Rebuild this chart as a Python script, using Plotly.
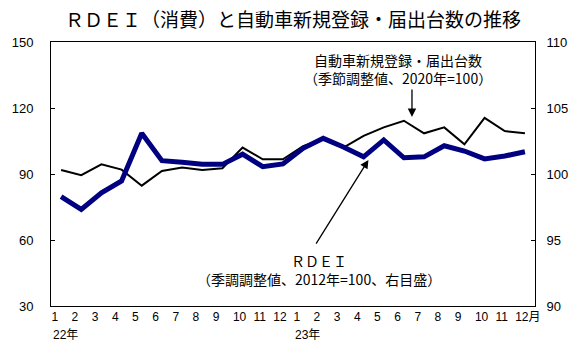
import plotly.graph_objects as go

months = [1, 2, 3, 4, 5, 6, 7, 8, 9, 10, 11, 12] * 2
year_labels = ["22年", "23年"]

# 自動車新規登録・届出台数（季節調整値、2020年=100） left axis
vehicles = [91.8, 89.5, 94.4, 92.0, 84.7, 91.4, 93.0, 91.8, 92.6, 102.0, 96.7, 96.7,
            102.7, 106.0, 102.0, 107.3, 111.2, 114.2, 108.5, 111.2, 103.5, 115.5, 109.5, 108.5]
# RDEI（季調調整値、2012年=100） right axis
rdei = [98.28, 97.32, 98.58, 99.47, 103.08, 101.01, 100.89, 100.73, 100.73, 101.5, 100.55, 100.76,
        101.95, 102.7, 102.05, 101.3, 102.58, 101.23, 101.3, 102.14, 101.74, 101.14, 101.36, 101.69]

left_ticks = [30, 60, 90, 120, 150]
right_ticks = [90, 95, 100, 105, 110]

x = list(range(len(months)))
ticktext = [str(m) for m in months]
ticktext[-1] = f"{months[-1]}月"

# month labels sit left-aligned in their category slot (as in the original)
SLOT_PX = 492 / 24
tickvals = []
for i, t in enumerate(ticktext):
    w = sum(12 if ord(c) > 255 else 6.7 for c in t)
    tickvals.append(i - 0.5 + (w / 2 + 0.5) / SLOT_PX)

FONT = "Arial, 'Liberation Sans', 'Noto Sans CJK JP', sans-serif"
JFONT = "'Noto Sans CJK JP', Arial, sans-serif"

fig = go.Figure()
fig.add_trace(go.Scatter(x=x, y=vehicles, mode="lines", line=dict(color="#000000", width=2),
                         yaxis="y", showlegend=False))
fig.add_trace(go.Scatter(x=x, y=rdei, mode="lines", line=dict(color="#000080", width=5),
                         yaxis="y2", showlegend=False))

fig.update_layout(
    width=580, height=345,
    margin=dict(l=50, r=38, t=42, b=39),
    paper_bgcolor="white", plot_bgcolor="white",
    font=dict(family=FONT, color="#000000", size=13),
    title=dict(text="ＲＤＥＩ（消費）と自動車新規登録・届出台数の推移",
               font=dict(family=JFONT, size=19, color="#000000"),
               x=0.5, xref="paper", xanchor="center",
               y=1 - 20 / 345, yref="container", yanchor="middle"),
    xaxis=dict(range=[-0.5, 23.5], tickmode="array", tickvals=tickvals, ticktext=ticktext,
               tickangle=0, ticks="", showgrid=False, zeroline=False, showline=True,
               linecolor="#000000", linewidth=1, mirror=True,
               tickfont=dict(size=12, family=FONT)),
    yaxis=dict(range=[30, 150], tickmode="array", tickvals=left_ticks, ticks="inside",
               ticklen=4, tickcolor="#000000", showgrid=False, zeroline=False, showline=True,
               linecolor="#000000", linewidth=1, ticklabelstandoff=14,
               tickfont=dict(size=13, family=FONT)),
    yaxis2=dict(range=[90, 110], tickmode="array", tickvals=right_ticks, ticks="inside",
                ticklen=4, tickcolor="#000000", showgrid=False, zeroline=False, showline=True,
                linecolor="#000000", linewidth=1, overlaying="y", side="right",
                ticklabelstandoff=8, tickfont=dict(size=13, family=FONT)),
)

anns = []
# year labels
for k, lab in enumerate(year_labels):
    anns.append(dict(text=lab, x=-0.5 + 12 * k, xref="x", y=0, yref="paper", yshift=-28.5,
                     xanchor="left", yanchor="middle", showarrow=False,
                     font=dict(size=12, family=FONT)))

# series labels
anns += [
    dict(text="自動車新規登録・届出台数<br>（季節調整値、2020年=100）",
         x=(403 - 50) / 492, y=(306 - 69) / 264, xref="paper",
         yref="paper", showarrow=False, xanchor="center", yanchor="middle", align="center",
         font=dict(size=14, family=JFONT)),
    dict(text="ＲＤＥＩ<br>（季調調整値、2012年=100、右目盛）",
         x=(322 - 50) / 492, y=(306 - 270) / 264, xref="paper",
         yref="paper", showarrow=False, xanchor="center", yanchor="middle", align="center",
         font=dict(size=14, family=JFONT)),
    # arrows
    dict(text="", x=17.4, y=115.9, xref="x", yref="y", ax=17.4, ay=129.1, axref="x", ayref="y",
         showarrow=True, arrowhead=2, arrowsize=1.3, arrowwidth=1.3, arrowcolor="#000000"),
    dict(text="", x=15.24, y=96.4, xref="x", yref="y", ax=12.6, ay=57.7, axref="x", ayref="y",
         showarrow=True, arrowhead=2, arrowsize=1.3, arrowwidth=1.3, arrowcolor="#000000"),
]
fig.update_layout(annotations=anns)

fig.write_html("out.html")
